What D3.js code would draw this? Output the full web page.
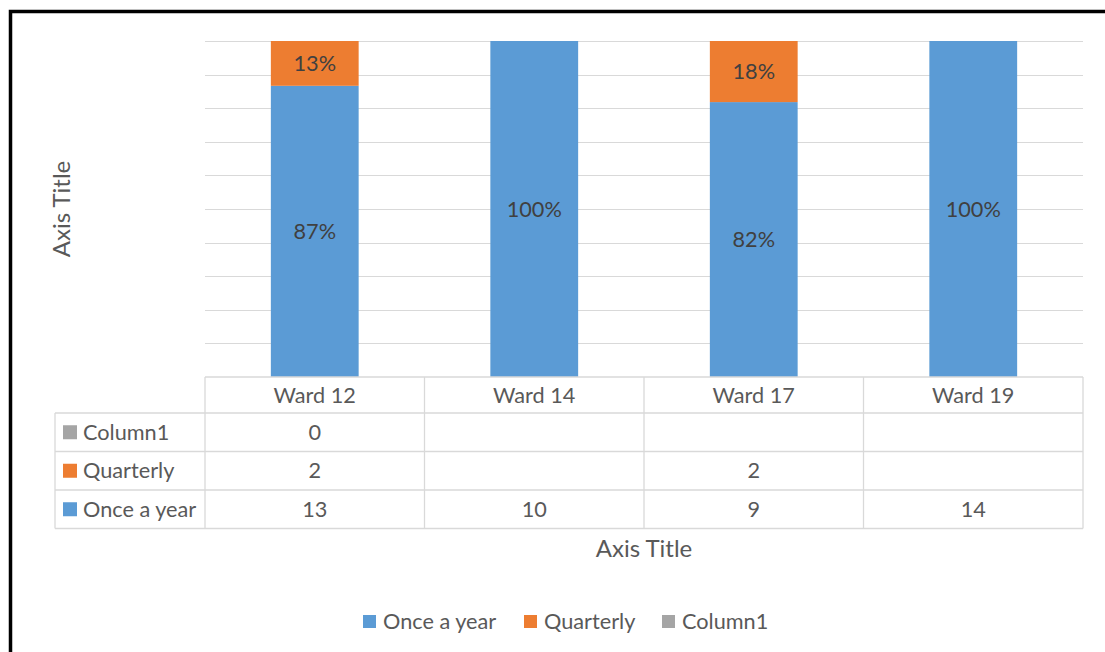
<!DOCTYPE html>
<html>
<head>
<meta charset="utf-8">
<script src="https://cdn.jsdelivr.net/npm/d3@7"></script>
<style>
  html, body { margin: 0; padding: 0; background: #fff; }
  svg { display: block; }
  text { font-family: Lato, "Open Sans", sans-serif; }
</style>
</head>
<body>
<svg id="chart" width="1105" height="652"></svg>
<script>
// Wards shown on the category axis
const categories = ["Ward 12", "Ward 14", "Ward 17", "Ward 19"];
// Series, in stacking order (bottom to top)
const seriesNames = ["Once a year", "Quarterly", "Column1"];
const onceAYear = [13, 10, 9, 14];
const quarterly = [2, null, 2, null];
const column1 = [0, null, null, null];
const seriesColors = ["#5b9bd5", "#ed7d31", "#a5a5a5"];
const yTicks = [0.1, 0.2, 0.3, 0.4, 0.5, 0.6, 0.7, 0.8, 0.9, 1.0];

const seriesValues = [onceAYear, quarterly, column1];

const svg = d3.select("#chart");
const textColor = "#595959";
const gridColor = "#d9d9d9";
const fontSize = 21.7;

// Frame around the chart
svg.append("path")
  .attr("d", "M10.5,660 L10.5,11.5 L1115,11.5")
  .attr("fill", "none")
  .attr("stroke", "#000")
  .attr("stroke-width", 3.5);

const plot = { left: 205, right: 1083, top: 41, bottom: 377 };

const x = d3.scaleBand().domain(categories).range([plot.left, plot.right]).padding(0);
const y = d3.scaleLinear().domain([0, 1]).range([plot.bottom, plot.top]);

// Horizontal gridlines
svg.append("g").selectAll("line")
  .data(yTicks)
  .join("line")
  .attr("x1", plot.left).attr("x2", plot.right)
  .attr("y1", d => Math.round(y(d)) + 0.5).attr("y2", d => Math.round(y(d)) + 0.5)
  .attr("stroke", gridColor).attr("stroke-width", 1);

// 100% stacked columns
const totals = categories.map((c, i) => d3.sum(seriesValues, s => s[i] || 0));
const rows = categories.map((c, i) => {
  const r = { cat: c };
  seriesNames.forEach((n, k) => { r[n] = (seriesValues[k][i] || 0) / totals[i]; });
  return r;
});
const stacked = d3.stack().keys(seriesNames)(rows);

const barW = x.bandwidth() / 2.5;
const barGroup = svg.append("g");
stacked.forEach((layer, k) => {
  barGroup.append("g").selectAll("rect")
    .data(layer)
    .join("rect")
    .attr("x", d => x(d.data.cat) + (x.bandwidth() - barW) / 2)
    .attr("width", barW)
    .attr("y", d => y(d[1]))
    .attr("height", d => y(d[0]) - y(d[1]))
    .attr("fill", seriesColors[k]);
});

// Percentage labels inside segments
stacked.forEach((layer, k) => {
  barGroup.append("g").selectAll("text")
    .data(layer.filter(d => d[1] - d[0] > 0))
    .join("text")
    .attr("x", d => x(d.data.cat) + x.bandwidth() / 2)
    .attr("y", d => (y(d[0]) + y(d[1])) / 2)
    .attr("dy", "0.35em")
    .attr("text-anchor", "middle")
    .attr("font-size", fontSize)
    .attr("fill", "#404040")
    .text(d => d3.format(".0%")(d[1] - d[0]));
});

// Data table below the plot
const table = svg.append("g");
const tableLeft = 55;
const rowEdges = [377, 413, 451.5, 490, 528.5];
const lineStyle = sel => sel.attr("stroke", gridColor).attr("stroke-width", 1.3);

// Horizontal rules
rowEdges.forEach((yy, i) => {
  table.append("line")
    .attr("x1", i === 0 ? plot.left : tableLeft).attr("x2", plot.right)
    .attr("y1", yy).attr("y2", yy)
    .call(lineStyle);
});
// Vertical rules
const colEdges = [plot.left].concat(categories.map(c => x(c) + x.bandwidth()));
colEdges.forEach(xx => {
  table.append("line")
    .attr("x1", xx).attr("x2", xx)
    .attr("y1", rowEdges[0]).attr("y2", rowEdges[4])
    .call(lineStyle);
});
table.append("line")
  .attr("x1", tableLeft).attr("x2", tableLeft)
  .attr("y1", rowEdges[1]).attr("y2", rowEdges[4])
  .call(lineStyle);

// Category headers
table.selectAll("text.cat")
  .data(categories)
  .join("text")
  .attr("class", "cat")
  .attr("x", d => x(d) + x.bandwidth() / 2)
  .attr("y", (rowEdges[0] + rowEdges[1]) / 2)
  .attr("dy", "0.35em")
  .attr("text-anchor", "middle")
  .attr("font-size", fontSize)
  .attr("fill", textColor)
  .text(d => d);

// Series rows: top row is the last series
const tableSeries = [2, 1, 0];
tableSeries.forEach((k, r) => {
  const yMid = (rowEdges[r + 1] + rowEdges[r + 2]) / 2;
  table.append("rect")
    .attr("x", 63).attr("y", yMid - 7).attr("width", 14).attr("height", 14)
    .attr("fill", seriesColors[k]);
  table.append("text")
    .attr("x", 83).attr("y", yMid).attr("dy", "0.35em")
    .attr("font-size", fontSize).attr("fill", textColor)
    .text(seriesNames[k]);
  seriesValues[k].forEach((v, i) => {
    if (v === null) return;
    table.append("text")
      .attr("x", x(categories[i]) + x.bandwidth() / 2)
      .attr("y", yMid).attr("dy", "0.35em")
      .attr("text-anchor", "middle")
      .attr("font-size", fontSize).attr("fill", textColor)
      .text(v);
  });
});

// Axis titles
svg.append("text")
  .attr("transform", "translate(62,209) rotate(-90)")
  .attr("text-anchor", "middle")
  .attr("dy", "0.35em")
  .attr("font-size", 24)
  .attr("fill", textColor)
  .text("Axis Title");

svg.append("text")
  .attr("x", 644).attr("y", 549)
  .attr("text-anchor", "middle")
  .attr("dy", "0.35em")
  .attr("font-size", 24)
  .attr("fill", textColor)
  .text("Axis Title");

// Legend
const legendItems = [
  { name: seriesNames[0], color: seriesColors[0], x: 363 },
  { name: seriesNames[1], color: seriesColors[1], x: 524 },
  { name: seriesNames[2], color: seriesColors[2], x: 662 }
];
const legend = svg.append("g");
legendItems.forEach(it => {
  legend.append("rect")
    .attr("x", it.x).attr("y", 615).attr("width", 13).attr("height", 13)
    .attr("fill", it.color);
  legend.append("text")
    .attr("x", it.x + 20).attr("y", 621.5).attr("dy", "0.35em")
    .attr("font-size", fontSize).attr("fill", textColor)
    .text(it.name);
});
</script>
</body>
</html>
